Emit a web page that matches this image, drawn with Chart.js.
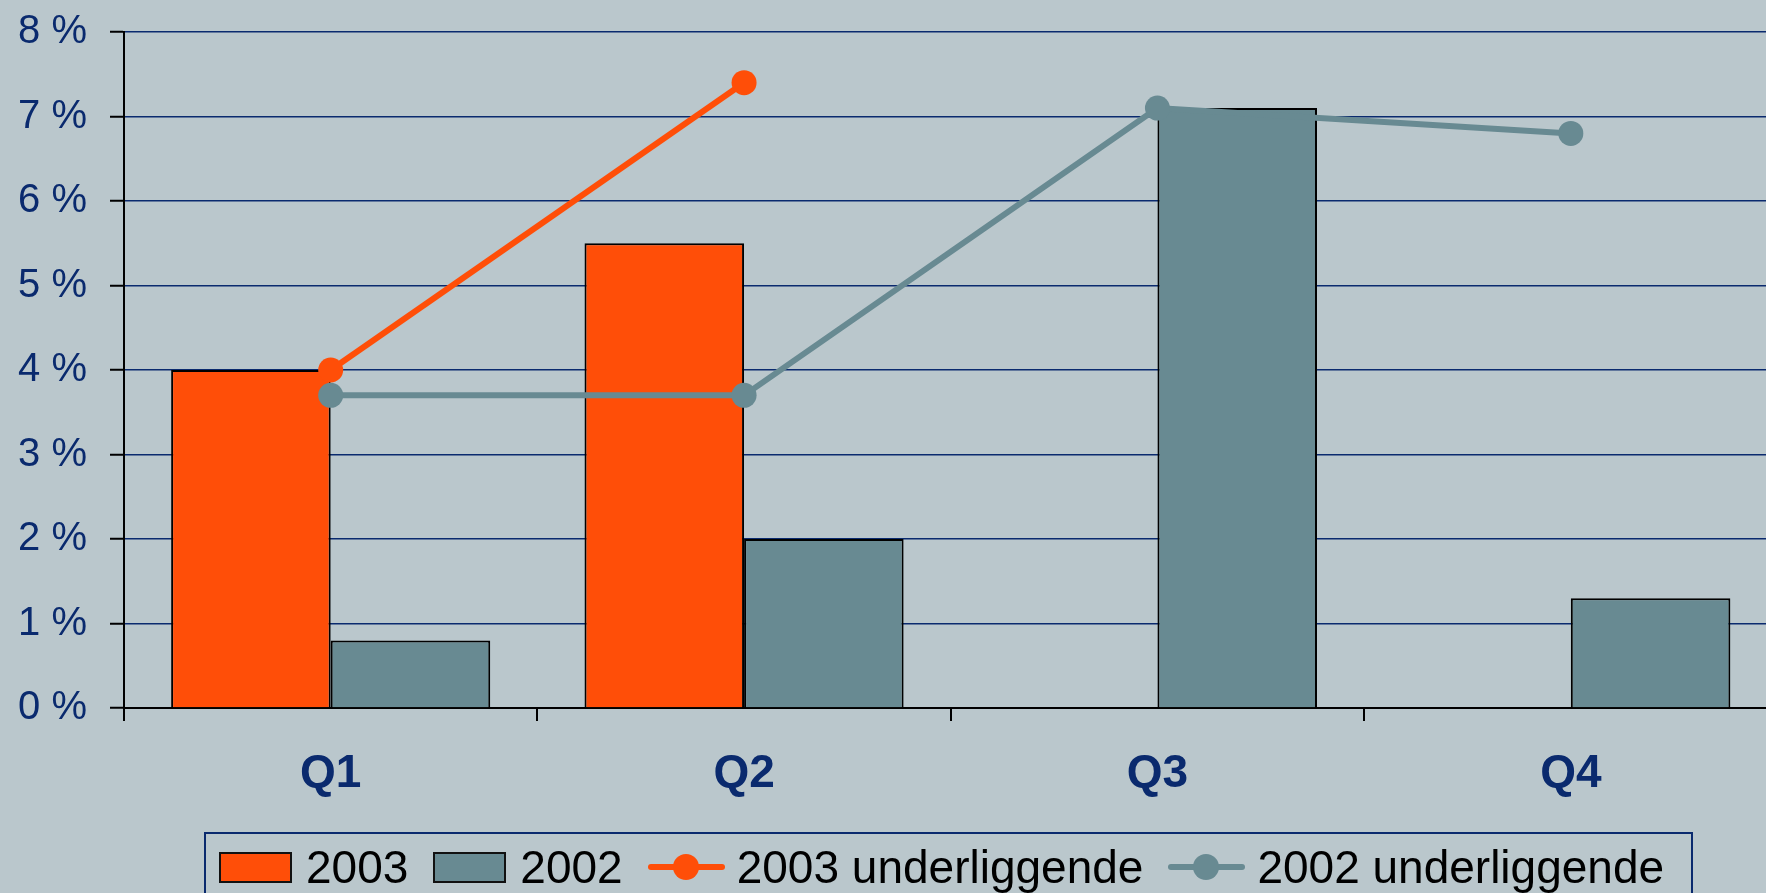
<!DOCTYPE html>
<html>
<head>
<meta charset="utf-8">
<script src="https://cdn.jsdelivr.net/npm/chart.js@4/dist/chart.umd.min.js"></script>
<style>
  html, body { margin: 0; padding: 0; background: #BAC7CC; overflow: hidden; }
  #wrap { position: relative; width: 1766px; height: 893px; overflow: hidden; }
  #myChart { position: absolute; left: 0; top: 0; }
  #chartLegend {
    position: absolute; left: 204px; top: 832px; width: 1489px; height: 70px;
    border: 2px solid #0A2A6E; box-sizing: border-box;
    font-family: "Liberation Sans", Arial, sans-serif; font-size: 46px; color: #000;
    display: flex; align-items: center; white-space: nowrap;
  }
  .box { display: inline-block; width: 69px; height: 27px; border: 2px solid #111; margin-left: 13px; margin-right: 14px; }
  .lin { position: relative; display: inline-block; width: 77px; height: 26px; margin-left: 25px; margin-right: 12px; }
  .lin i { position: absolute; left: 0; right: 0; top: 10px; height: 6px; border-radius: 3px; }
  .lin b { position: absolute; left: 25px; top: 0; width: 26px; height: 26px; border-radius: 50%; }
  .txt { line-height: 46px; }
</style>
</head>
<body>
<div id="wrap">
  <!-- the plot runs a little past the right edge of the window, like the original -->
  <canvas id="myChart" width="1790" height="893"></canvas>
  <div id="chartLegend"></div>
</div>
<script>
// Data
var kvartaler = ["Q1", "Q2", "Q3", "Q4"];
var vekst2003 = [4.0, 5.5, null, null];
var vekst2002 = [0.8, 2.0, 7.1, 1.3];
var underliggende2003 = [4.0, 7.4, null, null];
var underliggende2002 = [3.7, 3.7, 7.1, 6.8];
var yTicks = [0, 1, 2, 3, 4, 5, 6, 7, 8];

var oransje = "#FF4E08";
var graa = "#688A92";
var marine = "#0A2A6E";

// Legend as HTML
var legendItems = [
  { type: "box", color: oransje, label: "2003" },
  { type: "box", color: graa, label: "2002" },
  { type: "line", color: oransje, label: "2003 underliggende" },
  { type: "line", color: graa, label: "2002 underliggende" }
];
var legendHTML = legendItems.map(function(item, i) {
  var sw;
  if (item.type === "box") {
    sw = '<span class="box" style="background:' + item.color + ';' + (i > 0 ? 'margin-left:25px;' : '') + '"></span>';
  } else {
    sw = '<span class="lin"><i style="background:' + item.color + '"></i><b style="background:' + item.color + '"></b></span>';
  }
  return sw + '<span class="txt">' + item.label + '</span>';
}).join('');
document.getElementById('chartLegend').innerHTML = legendHTML;

var ctx = document.getElementById("myChart");

var myChart = new Chart(ctx, {
  type: 'bar',
  data: {
    labels: kvartaler,
    datasets: [{
      type: 'line',
      label: '2003 underliggende',
      data: underliggende2003,
      borderColor: oransje,
      backgroundColor: oransje,
      borderWidth: 6,
      pointRadius: 12.5,
      pointBorderWidth: 0,
      order: 0
    }, {
      type: 'line',
      label: '2002 underliggende',
      data: underliggende2002,
      borderColor: graa,
      backgroundColor: graa,
      borderWidth: 6,
      pointRadius: 12.5,
      pointBorderWidth: 0,
      order: 0
    }, {
      label: '2003',
      data: vekst2003,
      backgroundColor: oransje,
      borderColor: '#000',
      borderWidth: 2,
      barPercentage: 1,
      categoryPercentage: 0.772,
      order: 1
    }, {
      label: '2002',
      data: vekst2002,
      backgroundColor: graa,
      borderColor: '#000',
      borderWidth: 2,
      barPercentage: 1,
      categoryPercentage: 0.772,
      order: 1
    }]
  },
  options: {
    responsive: false,
    animation: false,
    layout: { padding: { top: 32, right: 0, bottom: 0, left: 0 } },
    plugins: {
      legend: { display: false },
      tooltip: { enabled: false }
    },
    scales: {
      x: {
        grid: {
          offset: true,
          drawOnChartArea: false,
          drawTicks: true,
          tickLength: 13,
          color: '#000',
          lineWidth: 2
        },
        border: { color: '#000', width: 2 },
        ticks: {
          color: marine,
          padding: 26,
          font: { family: 'Liberation Sans', size: 46, weight: 'bold' }
        },
        afterFit: function(scale) {
          scale.height = 185;
          scale.paddingLeft = 0;
          scale.paddingRight = 0;
        }
      },
      y: {
        min: 0,
        max: 8,
        afterBuildTicks: function(scale) {
          scale.ticks = yTicks.map(function(v) { return { value: v }; });
        },
        grid: {
          color: function(c) { return c.tick && c.tick.value === 0 ? '#000' : marine; },
          lineWidth: 1.5,
          tickColor: '#000',
          tickLength: 14,
          tickWidth: 2
        },
        border: { color: '#000', width: 2 },
        ticks: {
          color: marine,
          padding: 23,
          font: { family: 'Liberation Sans', size: 40 },
          callback: function(v) { return v + ' %'; }
        },
        afterFit: function(scale) {
          scale.width = 124;
          scale.paddingTop = 0;
          scale.paddingBottom = 0;
        }
      }
    }
  }
});
</script>
</body>
</html>
